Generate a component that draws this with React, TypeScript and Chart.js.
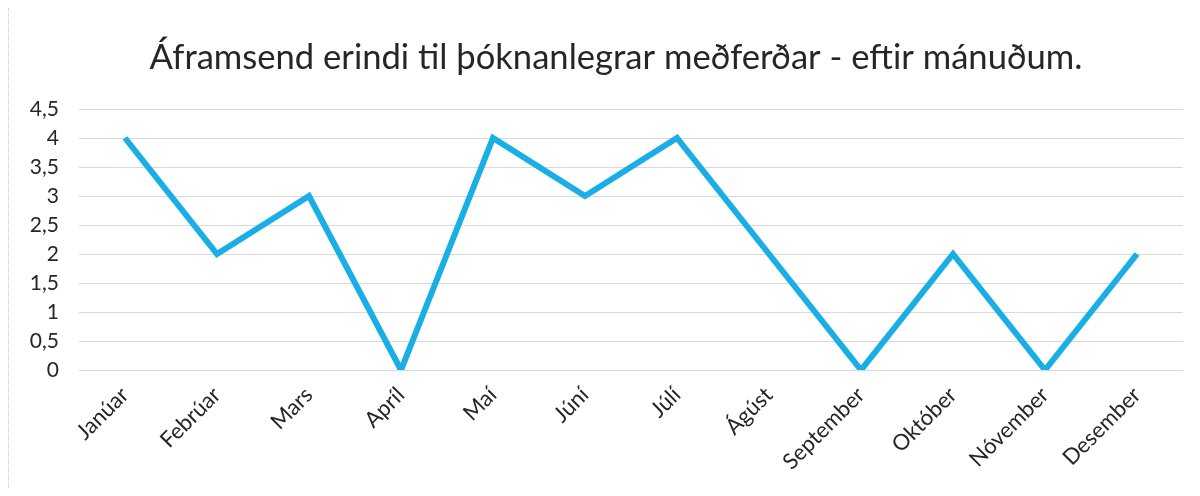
import React, { useEffect, useRef } from "react";
import { Chart, registerables } from "chart.js";

Chart.register(...registerables);

const titleText = "Áframsend erindi til þóknanlegrar meðferðar - eftir mánuðum.";
const months = [
  "Janúar", "Febrúar", "Mars", "Apríl", "Maí", "Júní",
  "Júlí", "Ágúst", "September", "Október", "Nóvember", "Desember",
];
const counts = [4, 2, 3, 0, 4, 3, 4, 2, 0, 2, 0, 2];
const yMin = 0;
const yMax = 4.5;
const yStep = 0.5;

const titlePlugin = {
  id: "offsetTitle",
  afterDraw(chart: any) {
    const ctx = chart.ctx;
    ctx.save();
    ctx.font = "normal 34.6px Lato";
    ctx.fillStyle = "#262626";
    ctx.textAlign = "center";
    ctx.textBaseline = "middle";
    ctx.fillText(titleText, 607, 50);
    ctx.restore();
  },
};

export default function App() {
  const ref = useRef<HTMLCanvasElement | null>(null);

  useEffect(() => {
    if (!ref.current) return;
    const chart = new Chart(ref.current, {
      type: "line",
      data: {
        labels: months,
        datasets: [
          {
            data: counts,
            borderColor: "#1aaee6",
            borderWidth: 6,
            pointRadius: 0,
            pointHoverRadius: 0,
            tension: 0,
            fill: false,
            borderJoinStyle: "miter",
            borderCapStyle: "butt",
          },
        ],
      },
      plugins: [titlePlugin],
      options: {
        responsive: false,
        animation: false,
        maintainAspectRatio: false,
        layout: { padding: { left: 0, right: 9, top: 101, bottom: 0 } },
        plugins: {
          legend: { display: false },
          tooltip: { enabled: false },
          title: { display: false },
        },
        scales: {
          x: {
            offset: true,
            afterFit: (s: any) => {
              s.height = 118;
            },
            grid: { display: false, drawTicks: false },
            border: { display: false },
            ticks: {
              color: "#262626",
              font: { family: "Lato", size: 22 },
              minRotation: 45,
              maxRotation: 45,
              padding: 12,
              autoSkip: false,
            },
          },
          y: {
            min: yMin,
            max: yMax,
            afterFit: (s: any) => {
              s.width = 70;
            },
            grid: { color: "#d9d9d9", lineWidth: 1, drawTicks: false },
            border: { display: false },
            ticks: {
              stepSize: yStep,
              color: "#262626",
              font: { family: "Lato", size: 21 },
              padding: 20,
              callback: (v: any) => String(v).replace(".", ","),
            },
          },
        },
      },
    });
    return () => chart.destroy();
  }, []);

  return (
    <div style={{ width: 1184, height: 480, borderLeft: "1px dotted #c8c8c8", boxSizing: "border-box" }}>
      <canvas ref={ref} width={1183} height={480} style={{ display: "block" }} />
    </div>
  );
}
